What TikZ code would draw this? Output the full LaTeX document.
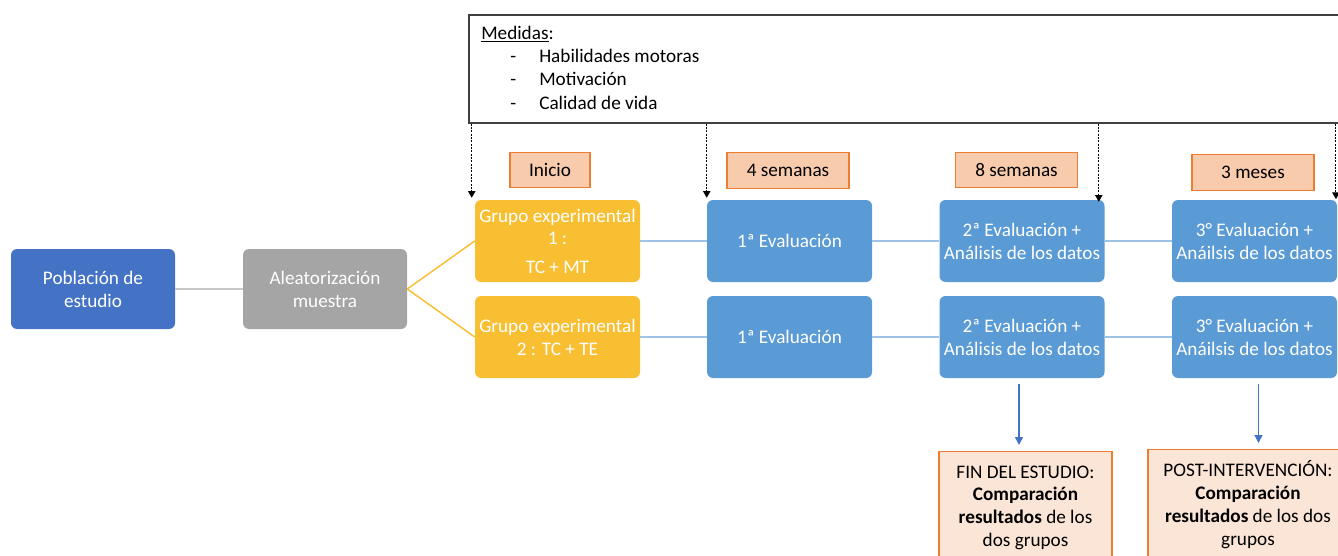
\documentclass[tikz,border=0pt]{standalone}
\usepackage{fontspec}
\setmainfont{Carlito}
\usetikzlibrary{arrows.meta}
\definecolor{popblue}{HTML}{4472C4}
\definecolor{evblue}{HTML}{5B9BD5}
\definecolor{grayb}{HTML}{A5A5A5}
\definecolor{yel}{HTML}{F9BF33}
\definecolor{peach}{HTML}{F8CBAD}
\definecolor{orng}{HTML}{ED7D31}
\definecolor{lpeach}{HTML}{FBE5D6}
\definecolor{lblue}{HTML}{9DC3E6}
\definecolor{lgray}{HTML}{C8C8C8}
\definecolor{frame}{HTML}{404040}
\begin{document}
\begin{tikzpicture}[x=0.75pt,y=-0.75pt,
  every node/.style={font=\fontsize{14.4pt}{17.2pt}\selectfont, inner sep=1pt, align=center},
  box/.style={rounded corners=4.5pt, minimum width=123.75pt, minimum height=61.5pt, text=white},
  popbox/.style={box, fill=popblue, minimum width=123pt, minimum height=60pt},
  randbox/.style={box, fill=grayb, minimum width=123pt, minimum height=60pt},
  grpbox/.style={box, fill=yel},
  evbox/.style={box, fill=evblue},
  timebox/.style={fill=peach, draw=orng, line width=0.9pt, text=black, minimum height=26.5pt},
  endbox/.style={fill=lpeach, draw=orng, line width=0.9pt, text=black, anchor=north, inner ysep=8pt},
  graylink/.style={draw=lgray, line width=1.1pt},
  yellink/.style={draw=yel, line width=1.1pt},
  bluelink/.style={draw=lblue, line width=1.1pt},
  dotarrow/.style={draw=black, line width=0.75pt, dash pattern=on 1.5pt off 1pt, -{Triangle[width=5.5pt,length=5pt]}},
  downarrow/.style={draw=popblue, line width=1pt, -{Triangle[width=6pt,length=6pt]}},
  txt/.style={anchor=base west, inner sep=0pt, align=left}
]
\useasboundingbox (0,0) rectangle (1338,556);
\clip (0,0) rectangle (1338,556);

% measures box
\node[draw=frame, line width=1pt, minimum width=657pt, minimum height=81pt, inner sep=0pt] (med) at (907,69) {};
\node[txt] (medt) at (481,39.5) {\underline{Medidas}:};
\node[txt] (d1) at (510,62.5) {-};
\node[txt] (m1) at (539,62.5) {Habilidades motoras};
\node[txt] (d2) at (510,86) {-};
\node[txt] (m2) at (539,86) {Motivación};
\node[txt] (d3) at (510,109.5) {-};
\node[txt] (m3) at (539,109.5) {Calidad de vida};

% time labels
\node[timebox, minimum width=60pt] (ini) at (550,170) {Inicio};
\node[timebox, minimum width=91.5pt] (s4) at (788,170.5) {4 semanas};
\node[timebox, minimum width=92pt] (s8) at (1016.5,170) {8 semanas};
\node[timebox, minimum width=91.5pt] (m3l) at (1253,172.5) {3 meses};

% main boxes
\node[popbox] (pob) at (93,289) {Población de\\estudio};
\node[randbox] (ale) at (325,289) {Aleatorización\\muestra};
\node[grpbox] (g1) at (557.5,241) {Grupo experimental\\1 :\\[4pt]TC + MT};
\node[grpbox] (g2) at (557.5,337) {Grupo experimental\\2 : TC + TE};
\node[evbox] (e1a) at (789.5,241) {1ª Evaluación};
\node[evbox] (e1b) at (789.5,337) {1ª Evaluación};
\node[evbox] (e2a) at (1022,241) {2ª Evaluación +\\Análisis de los datos};
\node[evbox] (e2b) at (1022,337) {2ª Evaluación +\\Análisis de los datos};
\node[evbox] (e3a) at (1254.5,241) {3° Evaluación +\\Anáilsis de los datos};
\node[evbox] (e3b) at (1254.5,337) {3° Evaluación +\\Anáilsis de los datos};

% end boxes
\node[endbox, minimum width=129.75pt, inner ysep=10.5pt] (fin) at (1025.5,451) {FIN DEL ESTUDIO:\\\textbf{Comparación}\\\textbf{resultados} de los\\dos grupos\\\strut};
\node[endbox, minimum width=150pt] (post) at (1248,449) {POST-INTERVENCIÓN:\\\textbf{Comparación}\\\textbf{resultados} de los dos\\grupos\\\strut};

% connectors
\draw[graylink] (pob.east) -- (ale.west);
\draw[yellink] (ale.east) -- (g1.west);
\draw[yellink] (ale.east) -- (g2.west);
\draw[bluelink] (g1.east) -- (e1a.west);
\draw[bluelink] (e1a.east) -- (e2a.west);
\draw[bluelink] (e2a.east) -- (e3a.west);
\draw[bluelink] (g2.east) -- (e1b.west);
\draw[bluelink] (e1b.east) -- (e2b.west);
\draw[bluelink] (e2b.east) -- (e3b.west);

\draw[downarrow, shorten >=4.5pt] ([xshift=-2.25pt,yshift=-4.5pt]e2b.south) -- ([xshift=-2.25pt]e2b.south |- fin.north);
\draw[downarrow, shorten >=4.5pt] ([xshift=3pt,yshift=-4.5pt]e3b.south) -- ([xshift=3pt]e3b.south |- post.north);

% dotted arrows from measures box
\draw[dotarrow] ([xshift=-2.25pt]g1.north west |- med.south) -- ([xshift=-2.25pt,yshift=1.5pt]g1.north west);
\draw[dotarrow] (e1a.north west |- med.south) -- ([yshift=1.5pt]e1a.north west);
\draw[dotarrow] ([xshift=-4.5pt]e2a.north east |- med.south) -- ([xshift=-4.5pt,yshift=-1.5pt]e2a.north east);
\draw[dotarrow] ([xshift=-1pt]e3a.north east |- med.south) -- ([xshift=-1pt,yshift=0.5pt]e3a.north east);
\end{tikzpicture}
\end{document}
